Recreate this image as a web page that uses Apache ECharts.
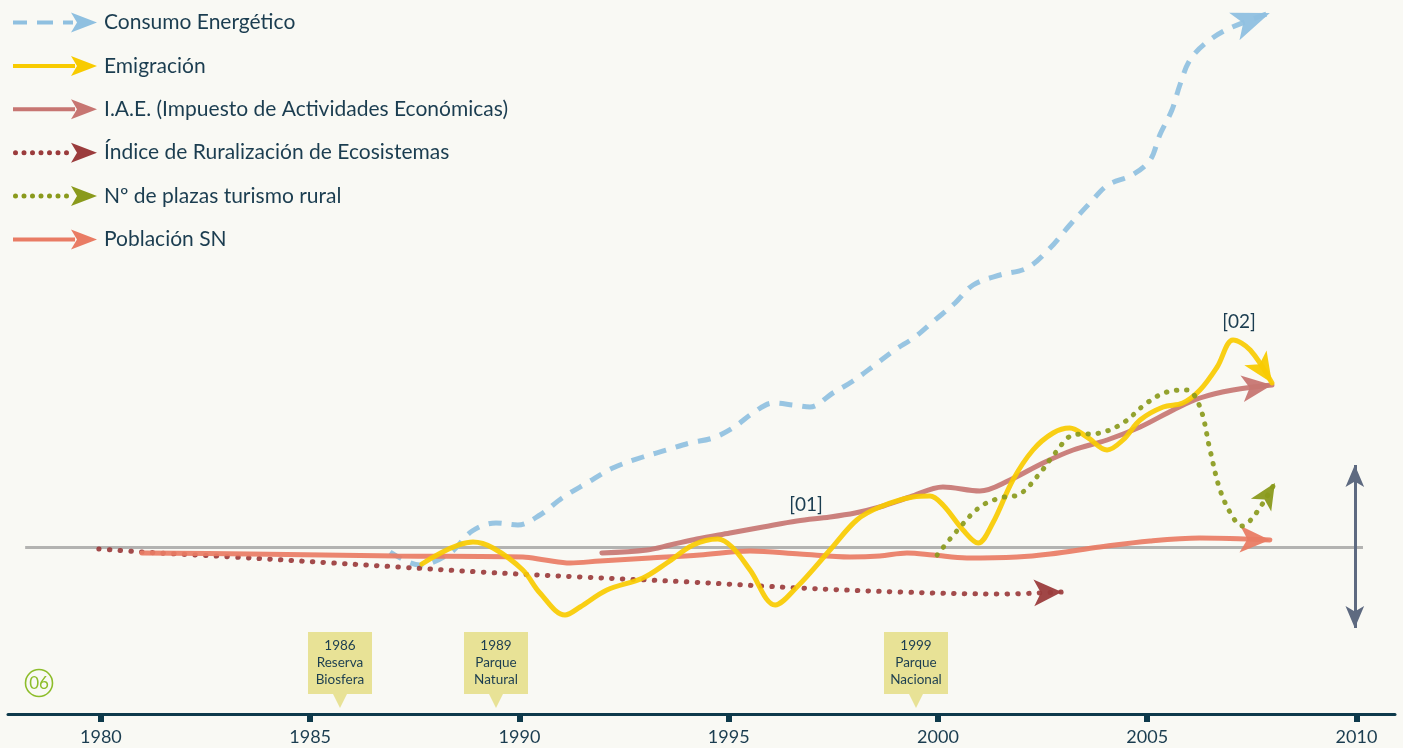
<!DOCTYPE html>
<html><head><meta charset="utf-8">
<script src="https://cdn.jsdelivr.net/npm/echarts@6/dist/echarts.min.js"></script>
<style>html,body{margin:0;padding:0;background:#f9f9f4;}#c{width:1403px;height:748px;}</style>
</head><body><div id="c"></div>
<script>
// ---- data (x in years, y in index units relative to the reference level 0) ----
const tickYears = [1980, 1985, 1990, 1995, 2000, 2005, 2010];

const consumoYears = [1986.91,1987.62,1988.34,1988.87,1989.44,1989.96,1990.49,1991.02,1991.61,1992.23,1992.95,1993.52,1994.07,1994.62,1995.10,1995.58,1996.06,1996.54,1996.94,1997.49,1997.97,1998.49,1998.97,1999.45,1999.93,2000.41,2000.84,2001.48,2002.13,2002.68,2003.15,2003.63,2004.06,2004.64,2005.07,2005.30,2005.59,2005.78,2006.02,2006.43,2006.98,2007.93];
const consumoValues = [-5,-18,-6,16,24,22,32,49,64,79,90,97,104,109,119,134,144,142,140,154,166,182,197,210,227,244,262,272,279,299,322,344,362,372,387,412,437,462,487,505,519,534];

const emigracionYears = [1987.67,1988.89,1989.37,1990.08,1990.49,1991.09,1991.45,1992.09,1992.95,1993.52,1994.15,1994.74,1995.08,1995.51,1996.11,1996.63,1997.42,1998.06,1998.61,1999.40,1999.81,2000.12,2000.60,2000.96,2001.31,2001.79,2002.27,2002.75,2003.15,2003.56,2004.04,2004.42,2004.83,2005.38,2005.85,2006.26,2006.67,2007.05,2007.46,2007.98];
const emigracionValues = [-17,5,-1,-23,-46,-68,-60,-43,-31,-16,2,8,0,-23,-58,-40,-3,27,40,50,51,42,17,4,24,67,97,114,119,110,97,107,127,140,144,157,180,207,197,164];

const iaeYears = [1991.97,1993.05,1993.60,1994.24,1995.03,1995.82,1996.63,1997.42,1998.02,1998.61,1999.33,2000.12,2001.00,2001.72,2002.51,2003.23,2004.04,2004.83,2005.62,2006.26,2007.05,2007.98];
const iaeValues = [-6,-3,2,8,14,20,26,30,34,40,50,60,56,67,84,97,107,120,137,149,157,162];

const ruralYears = [1979.95,1980.98,1983.15,1985.54,1987.10,1989.06,1991.45,1994.07,1996.70,1999.09,2001.48,2002.96];
const ruralValues = [-2,-5,-10,-16,-20,-25,-30,-35,-41,-45,-47,-45];

const turismoYears = [1999.98,2000.45,2001.00,2001.48,2001.96,2002.44,2002.80,2003.23,2003.87,2004.42,2004.99,2005.47,2005.95,2006.26,2006.50,2006.74,2007.03,2007.26,2007.57,2008.05];
const turismoValues = [-8,16,40,49,53,74,94,112,114,124,144,155,157,140,97,57,31,21,32,64];

const poblacionYears = [1980.98,1983.56,1987.07,1990.08,1990.61,1991.21,1991.92,1993.12,1994.31,1995.51,1996.70,1997.90,1998.61,1999.26,1999.88,2000.69,2001.89,2002.68,2003.87,2005.07,2006.26,2007.93];
const poblacionValues = [-6,-7,-9,-10,-13,-16,-14,-11,-8,-4,-7,-10,-9,-6,-8,-11,-10,-7,0,6,9,7];

const seriesNames = ['Consumo Energético','Emigración','I.A.E. (Impuesto de Actividades Económicas)','Índice de Ruralización de Ecosistemas','Nº de plazas turismo rural','Población SN'];
const eventLabels = [['1986','Reserva','Biosfera'],['1989','Parque','Natural'],['1999','Parque','Nacional']];
const noteLabels = ['[01]','[02]'];
const figureLabel = '06';

// ---- layout / style ----
const X_MIN = 1977.78, X_MAX = 2010.92;
const TXT = '#1b3d50';
const FONT = 'Lato, "Open Sans", sans-serif';

function pairs(xs, ys){ return xs.map((x,i)=>[x, ys[i]]); }

const icons = {
  dashed: 'path://M0,8h14v4H0z M24,8h16v4H24z M50,8h10v4H50z M58,0L84,10L58,20L64,10z',
  solid: 'path://M0,8h62v4H0z M58,0L84,10L58,20L64,10z',
  dotted: 'path://' + [0,8.5,17,25.5,34,42.5,51].map(x=>'M'+x+',10a2.5,2.5 0 1,0 5,0a2.5,2.5 0 1,0 -5,0').join(' ') + ' M58,0L84,10L58,20L64,10z'
};

const defs = [
  {name: seriesNames[0], xs: consumoYears, ys: consumoValues, color:'#8fc0e0', type:[13,10], cap:'butt', icon: icons.dashed, arrow:[22,38], z:2},
  {name: seriesNames[1], xs: emigracionYears, ys: emigracionValues, color:'#f8cb00', type:'solid', cap:'round', icon: icons.solid, arrow:[20,30], z:6},
  {name: seriesNames[2], xs: iaeYears, ys: iaeValues, color:'#c77672', type:'solid', cap:'round', icon: icons.solid, arrow:[20,30], z:5},
  {name: seriesNames[3], xs: ruralYears, ys: ruralValues, color:'#9b3c3c', type:[0.5,10.2], cap:'round', icon: icons.dotted, arrow:[20,28], z:3},
  {name: seriesNames[4], xs: turismoYears, ys: turismoValues, color:'#8a9a1c', type:[0.5,9.6], cap:'round', icon: icons.dotted, arrow:[18,26], z:7},
  {name: seriesNames[5], xs: poblacionYears, ys: poblacionValues, color:'#e97c64', type:'solid', cap:'round', icon: icons.solid, arrow:[20,30], z:4}
];

function buildSeries(rot){
  return defs.map((d,i)=>{
    const n = d.xs.length;
    const s = {
      name: d.name, type:'line', smooth:0.35, symbol:'none', silent:true,
      color: d.color, z: d.z,
      data: pairs(d.xs, d.ys),
      lineStyle:{color:d.color, width:5, type:d.type, cap:d.cap, opacity:0.92},
      markPoint:{
        silent:true, symbol:'arrow', symbolSize:d.arrow, label:{show:false},
        itemStyle:{color:d.color, opacity:0.95},
        data:[{coord:[d.xs[n-1], d.ys[n-1]], symbolRotate: rot ? rot[i] : -90}]
      }
    };
    if (i === 0) {
      s.markLine = {silent:true, symbol:'none', label:{show:false}, z:1,
        lineStyle:{color:'#b3b3b1', width:3, type:'solid'},
        data:[[{coord:[1978.19,0]},{coord:[2010.155,0]}]]};
    }
    if (i === 5) {
      s.markLine = {silent:true, symbol:['arrow','arrow'], symbolSize:[14,22], label:{show:false},
        lineStyle:{color:'#5e6a80', width:3, type:'solid'},
        itemStyle:{color:'#5e6a80'},
        data:[[{coord:[2009.96,82]},{coord:[2009.96,-81]}]]};
    }
    return s;
  });
}

function callout(cx, top, lines){
  return {type:'group', silent:true, children:[
    {type:'rect', shape:{x:cx-32, y:top, width:64, height:62}, style:{fill:'#e8e296'}},
    {type:'polygon', shape:{points:[[cx-7,top+62],[cx+7,top+62],[cx,top+76]]}, style:{fill:'#e8e296'}},
    {type:'text', x:cx, y:top+31, style:{text:lines.join('\n'), fill:TXT, font:'13.5px "Liberation Sans Narrow", Lato, sans-serif', align:'center', verticalAlign:'middle', lineHeight:17}}
  ]};
}

const graphics = [
  callout(340, 632, eventLabels[0]),
  callout(496, 632, eventLabels[1]),
  callout(916, 632, eventLabels[2]),
  {type:'circle', shape:{cx:39, cy:683, r:13.5}, style:{fill:'none', stroke:'#8dbd2a', lineWidth:1.6}, silent:true},
  {type:'text', x:39, y:684, style:{text:figureLabel, fill:'#8dbd2a', font:'17px ' + FONT, align:'center', verticalAlign:'middle'}, silent:true},
  {type:'text', x:806, y:505, style:{text:noteLabels[0], fill:TXT, font:'19px ' + FONT, align:'center', verticalAlign:'middle'}, silent:true},
  {type:'text', x:1239, y:322, style:{text:noteLabels[1], fill:TXT, font:'19px ' + FONT, align:'center', verticalAlign:'middle'}, silent:true}
];

function buildOption(rot){
  return {
    backgroundColor:'#f9f9f4',
    animation:false,
    grid:{left:8, right:8, top:0, bottom:34, containLabel:false},
    xAxis:{type:'value', min:X_MIN, max:X_MAX,
      axisLine:{show:true, onZero:false, lineStyle:{color:'#0e3a4b', width:3}},
      axisTick:{show:true, customValues:tickYears, length:8, lineStyle:{color:'#0e3a4b', width:6}},
      axisLabel:{show:true, customValues:tickYears, margin:14, color:TXT, fontSize:18, fontFamily:FONT, formatter:v=>String(Math.round(v))},
      splitLine:{show:false}},
    yAxis:{type:'value', min:-167, max:547, show:false, splitLine:{show:false}},
    legend:{orient:'vertical', left:8, top:7, itemWidth:84, itemHeight:20, itemGap:22.4, selectedMode:false,
      symbolKeepAspect:false,
      itemStyle:{borderWidth:0}, lineStyle:{width:0},
      textStyle:{color:TXT, fontSize:21, fontFamily:FONT, padding:[0,0,0,2]},
      data: defs.map(d=>({name:d.name, icon:d.icon}))},
    graphic: graphics,
    series: buildSeries(rot)
  };
}

const chart = echarts.init(document.getElementById('c'), null, {renderer:'canvas'});
chart.setOption(buildOption(null));
const rot = defs.map(d=>{
  const n = d.xs.length;
  const p1 = chart.convertToPixel({gridIndex:0}, [d.xs[n-2], d.ys[n-2]]);
  const p2 = chart.convertToPixel({gridIndex:0}, [d.xs[n-1], d.ys[n-1]]);
  const a = Math.atan2(p2[1]-p1[1], p2[0]-p1[0]);
  return (-Math.PI/2 - a) * 180 / Math.PI;
});
chart.setOption(buildOption(rot), true);
</script></body></html>
